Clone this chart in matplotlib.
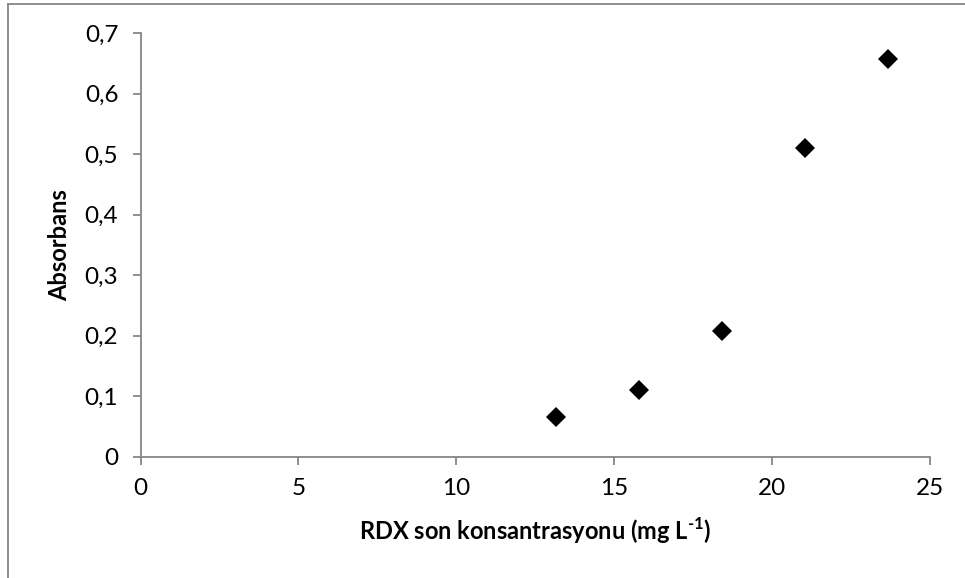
import matplotlib
matplotlib.use('Agg')
import matplotlib.pyplot as plt
from matplotlib.lines import Line2D

plt.rcParams['font.family'] = ['Lato', 'DejaVu Sans']
plt.rcParams['mathtext.fontset'] = 'custom'
plt.rcParams['mathtext.rm'] = 'Lato:bold'

# RDX konsantrasyonu ve absorbans
rdx_conc = [13.15, 15.78, 18.42, 21.05, 23.68]
absorbans = [0.065, 0.110, 0.207, 0.510, 0.658]

x_ticks = [0, 5, 10, 15, 20, 25]
y_ticks = [0, 0.1, 0.2, 0.3, 0.4, 0.5, 0.6, 0.7]
y_tick_labels = ['0', '0,1', '0,2', '0,3', '0,4', '0,5', '0,6', '0,7']

axis_gray = '#868686'

fig = plt.figure(figsize=(9.65, 5.78), dpi=100)
ax = fig.add_axes([0.1456, 0.2099, 0.8181, 0.7325])

ax.plot(rdx_conc, absorbans, linestyle='none', marker='D', markersize=10.5,
        color='black', markeredgewidth=0)

ax.set_xlim(0, 25)
ax.set_ylim(0, 0.7)
ax.set_xticks(x_ticks)
ax.set_xticklabels([str(t) for t in x_ticks])
ax.set_yticks(y_ticks)
ax.set_yticklabels(y_tick_labels)

for side in ['top', 'right']:
    ax.spines[side].set_visible(False)
for side in ['left', 'bottom']:
    ax.spines[side].set_color(axis_gray)
    ax.spines[side].set_linewidth(1.3)

ax.tick_params(axis='both', direction='out', length=6, width=1.3,
               color=axis_gray, labelsize=17.5, labelcolor='black')
ax.tick_params(axis='x', pad=9)
ax.tick_params(axis='y', pad=10)

ax.set_xlabel('RDX son konsantrasyonu (mg L$^{\\text{-1}}$)', fontsize=17,
              fontweight='bold', labelpad=12)
ax.set_ylabel('Absorbans', fontsize=17, fontweight='bold', labelpad=10)

# grafik alanının çerçevesi (sol ve üst kenar)
fig.add_artist(Line2D([8 / 965, 8 / 965], [0, 1 - 4 / 578],
                      transform=fig.transFigure, color=axis_gray, linewidth=1.3))
fig.add_artist(Line2D([8 / 965, 1], [1 - 4 / 578, 1 - 4 / 578],
                      transform=fig.transFigure, color=axis_gray, linewidth=1.3))

fig.savefig('out.png', dpi=100)
